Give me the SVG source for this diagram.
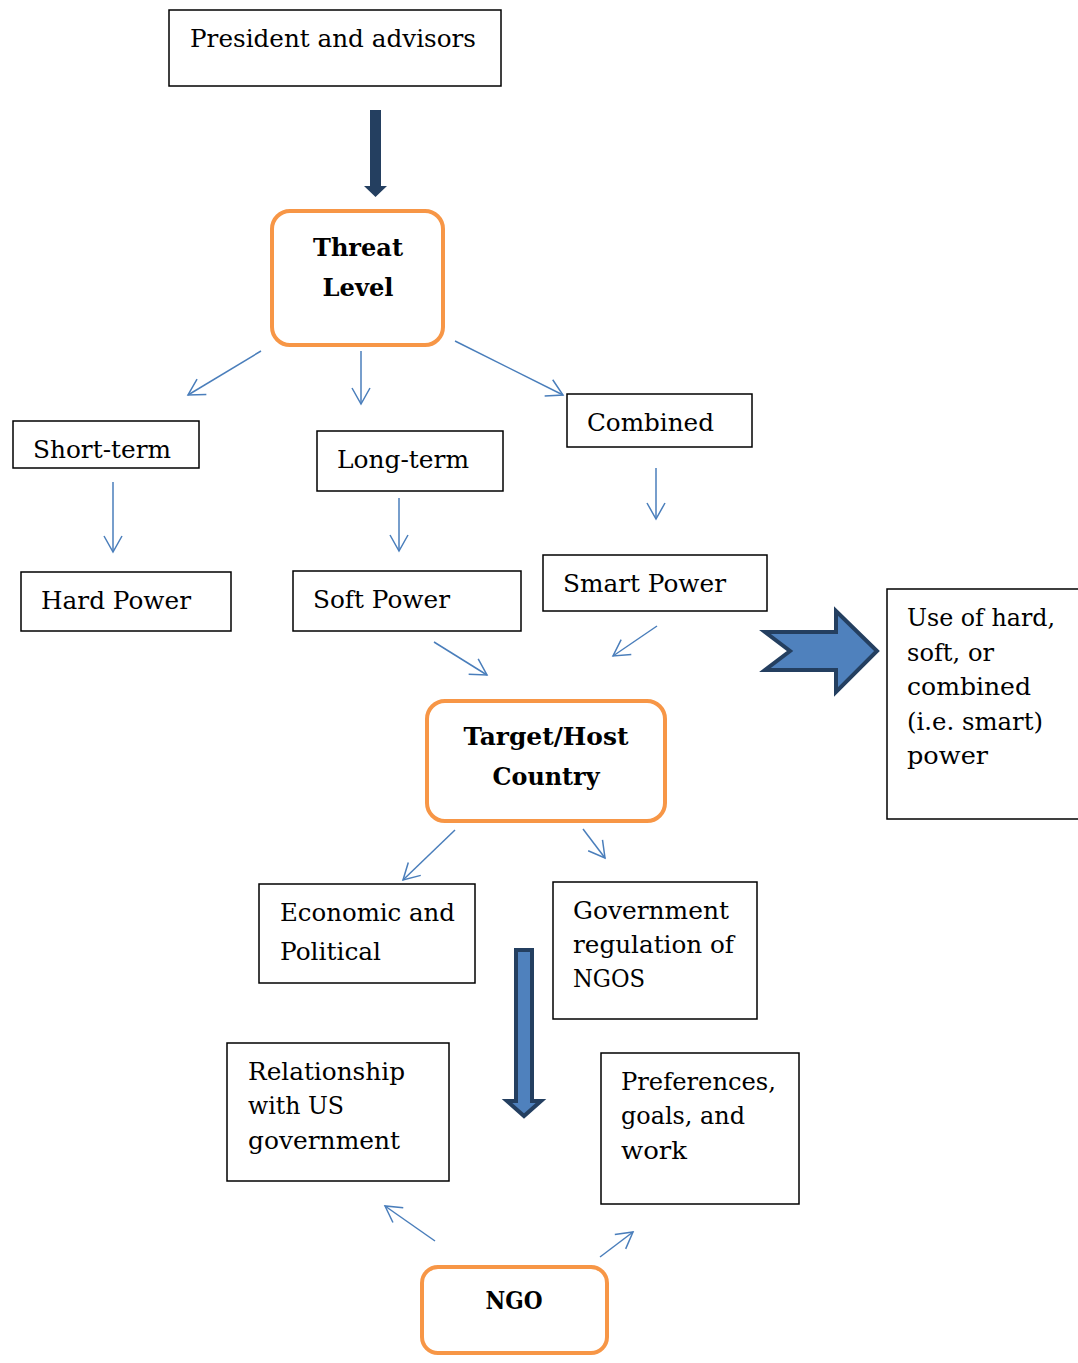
<svg xmlns="http://www.w3.org/2000/svg" width="1078" height="1363" viewBox="0 0 1078 1363">
<defs>
<style>
.box{fill:#fff;stroke:#000;stroke-width:1.5}
.rbox{fill:#fff;stroke:#f79646;stroke-width:4}
.t{font-family:"DejaVu Serif","Liberation Serif",serif;font-size:25px;fill:#000}
.b{font-family:"DejaVu Serif","Liberation Serif",serif;font-size:25px;font-weight:bold;fill:#000;text-anchor:middle}
.c{fill:none;stroke:#4a7ebb;stroke-width:1.5}
.blk{fill:#4f81bd;stroke:#243f60;stroke-width:4;stroke-linejoin:miter}
</style>
<marker id="ah" markerUnits="userSpaceOnUse" markerWidth="40" markerHeight="40" viewBox="-20 -20 40 40" refX="0" refY="0" orient="auto" overflow="visible">
<path d="M-16,-9 L0,0 L-16,9" fill="none" stroke="#4a7ebb" stroke-width="1.5"/>
</marker>
</defs>
<rect width="1078" height="1363" fill="#fff"/>

<g id="president">
<rect class="box" x="169" y="10" width="332" height="76"/>
<text class="t" x="190" y="47" textLength="286" lengthAdjust="spacingAndGlyphs">President and advisors</text>
</g>

<g id="threat">
<rect class="rbox" x="272" y="211" width="171" height="134" rx="18"/>
<text class="b" x="358" y="256" textLength="90" lengthAdjust="spacingAndGlyphs">Threat</text>
<text class="b" x="358" y="296" textLength="71" lengthAdjust="spacingAndGlyphs">Level</text>
</g>

<g id="shortterm">
<rect class="box" x="13" y="421" width="186" height="47"/>
<text class="t" x="33" y="458" textLength="138" lengthAdjust="spacingAndGlyphs">Short-term</text>
</g>

<g id="longterm">
<rect class="box" x="317" y="431" width="186" height="60"/>
<text class="t" x="337" y="468" textLength="132" lengthAdjust="spacingAndGlyphs">Long-term</text>
</g>

<g id="combined">
<rect class="box" x="567" y="394" width="185" height="53"/>
<text class="t" x="587" y="431" textLength="127" lengthAdjust="spacingAndGlyphs">Combined</text>
</g>

<g id="hardpower">
<rect class="box" x="21" y="572" width="210" height="59"/>
<text class="t" x="41" y="609" textLength="150" lengthAdjust="spacingAndGlyphs">Hard Power</text>
</g>

<g id="softpower">
<rect class="box" x="293" y="571" width="228" height="60"/>
<text class="t" x="313" y="608" textLength="137" lengthAdjust="spacingAndGlyphs">Soft Power</text>
</g>

<g id="smartpower">
<rect class="box" x="543" y="555" width="224" height="56"/>
<text class="t" x="563" y="592" textLength="163" lengthAdjust="spacingAndGlyphs">Smart Power</text>
</g>

<g id="use">
<rect class="box" x="887" y="589" width="195" height="230"/>
<text class="t" x="907" y="626" textLength="148" lengthAdjust="spacingAndGlyphs">Use of hard,</text>
<text class="t" x="907" y="661" textLength="87" lengthAdjust="spacingAndGlyphs">soft, or</text>
<text class="t" x="907" y="695" textLength="124" lengthAdjust="spacingAndGlyphs">combined</text>
<text class="t" x="907" y="730" textLength="136" lengthAdjust="spacingAndGlyphs">(i.e. smart)</text>
<text class="t" x="907" y="764" textLength="81" lengthAdjust="spacingAndGlyphs">power</text>
</g>

<g id="target">
<rect class="rbox" x="427" y="701" width="238" height="120" rx="18"/>
<text class="b" x="546" y="745" textLength="165" lengthAdjust="spacingAndGlyphs">Target/Host</text>
<text class="b" x="546" y="785" textLength="107" lengthAdjust="spacingAndGlyphs">Country</text>
</g>

<g id="economic">
<rect class="box" x="259" y="884" width="216" height="99"/>
<text class="t" x="280" y="921" textLength="175" lengthAdjust="spacingAndGlyphs">Economic and</text>
<text class="t" x="280" y="960" textLength="101" lengthAdjust="spacingAndGlyphs">Political</text>
</g>

<g id="government">
<rect class="box" x="553" y="882" width="204" height="137"/>
<text class="t" x="573" y="919" textLength="156" lengthAdjust="spacingAndGlyphs">Government</text>
<text class="t" x="573" y="953" textLength="161" lengthAdjust="spacingAndGlyphs">regulation of</text>
<text class="t" x="573" y="987" textLength="72" lengthAdjust="spacingAndGlyphs">NGOS</text>
</g>

<g id="relationship">
<rect class="box" x="227" y="1043" width="222" height="138"/>
<text class="t" x="248" y="1080" textLength="157" lengthAdjust="spacingAndGlyphs">Relationship</text>
<text class="t" x="248" y="1114" textLength="96" lengthAdjust="spacingAndGlyphs">with US</text>
<text class="t" x="248" y="1149" textLength="152" lengthAdjust="spacingAndGlyphs">government</text>
</g>

<g id="preferences">
<rect class="box" x="601" y="1053" width="198" height="151"/>
<text class="t" x="621" y="1090" textLength="155" lengthAdjust="spacingAndGlyphs">Preferences,</text>
<text class="t" x="621" y="1124" textLength="124" lengthAdjust="spacingAndGlyphs">goals, and</text>
<text class="t" x="621" y="1159" textLength="66" lengthAdjust="spacingAndGlyphs">work</text>
</g>

<g id="ngo">
<rect class="rbox" x="422" y="1267" width="185" height="86" rx="16"/>
<text class="b" x="514" y="1309" textLength="57" lengthAdjust="spacingAndGlyphs">NGO</text>
</g>

<g id="connectors">
<polygon points="370,110 381,110 381,186 387,186 375.5,197 364,186 370,186" fill="#243f60"/>
<line class="c" x1="261" y1="351" x2="188" y2="395" marker-end="url(#ah)"/>
<line class="c" x1="361" y1="351" x2="361" y2="404" marker-end="url(#ah)"/>
<line class="c" x1="455" y1="341" x2="563" y2="395" marker-end="url(#ah)"/>
<line class="c" x1="113" y1="482" x2="113" y2="552" marker-end="url(#ah)"/>
<line class="c" x1="399" y1="498" x2="399" y2="551" marker-end="url(#ah)"/>
<line class="c" x1="656" y1="468" x2="656" y2="519" marker-end="url(#ah)"/>
<line class="c" x1="434" y1="642" x2="487" y2="675" marker-end="url(#ah)"/>
<line class="c" x1="657" y1="626" x2="613" y2="656" marker-end="url(#ah)"/>
<line class="c" x1="455" y1="830" x2="403" y2="880" marker-end="url(#ah)"/>
<line class="c" x1="583" y1="829" x2="605" y2="858" marker-end="url(#ah)"/>
<line class="c" x1="435" y1="1241" x2="385" y2="1206" marker-end="url(#ah)"/>
<line class="c" x1="600" y1="1257" x2="633" y2="1232" marker-end="url(#ah)"/>
<polygon class="blk" points="765,632 836,632 836,611 877,651 836,692 836,670 765,670 790,651"/>
<polygon class="blk" points="516,950 532,950 532,1101 541,1101 524,1116 507,1101 516,1101"/>
</g>
</svg>
